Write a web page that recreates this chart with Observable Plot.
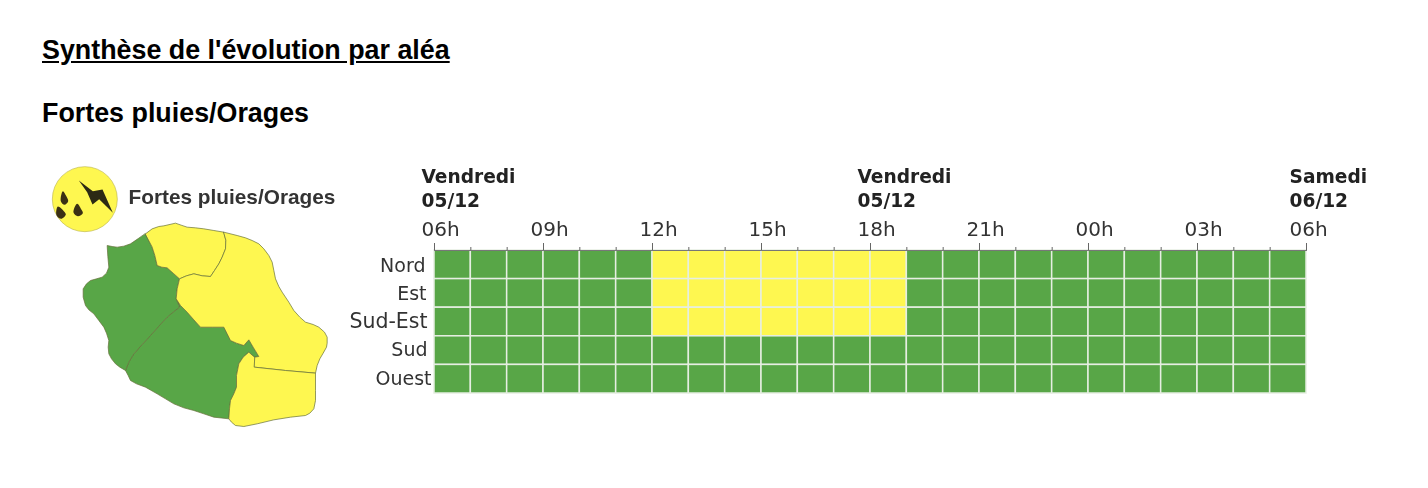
<!DOCTYPE html>
<html lang="fr">
<head>
<meta charset="utf-8">
<script src="https://cdn.jsdelivr.net/npm/d3@7"></script>
<script src="https://cdn.jsdelivr.net/npm/@observablehq/plot@0.6"></script>
<style>
  html, body { margin: 0; padding: 0; background: #fff; width: 1428px; height: 488px; overflow: hidden; }
  #page { position: relative; width: 1428px; height: 488px; }
  .h { position: absolute; left: 42px; margin: 0; font: bold 26.85px "Liberation Sans", Arial, sans-serif; color: #000; line-height: 30px; white-space: nowrap; }
  #t1 { top: 35px; text-decoration: underline; }
  #t2 { top: 98px; }
  #map { position: absolute; left: 30px; top: 150px; }
  #grid { position: absolute; left: 340px; top: 150px; }
  svg { background: transparent !important; filter: blur(0.45px); }
</style>
</head>
<body>
<div id="page">
  <h1 class="h" id="t1">Synthèse de l'évolution par aléa</h1>
  <h2 class="h" id="t2">Fortes pluies/Orages</h2>
  <div id="map"></div>
  <div id="grid"></div>
</div>
<script>
// ---- Data -----
const zones = ["Nord", "Est", "Sud-Est", "Sud", "Ouest"];
const hourLabels = ["06h", "09h", "12h", "15h", "18h", "21h", "00h", "03h", "06h"];
const labelHours = [0, 3, 6, 9, 12, 15, 18, 21, 24];
const dayLabels = ["Vendredi\n05/12", "Vendredi\n05/12", "Samedi\n06/12"];
const dayHours = [0, 12, 24];
// vigilance level per hour (24 hours from 06h): 0 = vert, 1 = jaune
const nordLevels    = [0,0,0,0,0,0,1,1,1,1,1,1,1,0,0,0,0,0,0,0,0,0,0,0];
const estLevels     = [0,0,0,0,0,0,1,1,1,1,1,1,1,0,0,0,0,0,0,0,0,0,0,0];
const sudEstLevels  = [0,0,0,0,0,0,1,1,1,1,1,1,1,0,0,0,0,0,0,0,0,0,0,0];
const sudLevels     = [0,0,0,0,0,0,0,0,0,0,0,0,0,0,0,0,0,0,0,0,0,0,0,0];
const ouestLevels   = [0,0,0,0,0,0,0,0,0,0,0,0,0,0,0,0,0,0,0,0,0,0,0,0];
const levelsByZone = [nordLevels, estLevels, sudEstLevels, sudLevels, ouestLevels];
const levelNames = ["vert", "jaune"];
const levelColors = ["#58a647", "#fef750"];

// Map outlines of the sectors (map units)
const nordShape = [[345,250],[365,235],[385,228],[400,226],[435,218],[452,224],[470,230],[495,232],[520,235],[550,240],[580,245],[586,270],[585,295],[575,320],[565,340],[552,360],[540,378],[515,376],[490,370],[468,376],[447,385],[428,368],[410,352],[394,350],[380,345],[373,315],[365,290]];
const estShape = [[580,245],[620,255],[645,262],[665,270],[685,280],[700,295],[715,315],[725,335],[730,360],[735,385],[745,408],[755,425],[775,455],[790,480],[808,500],[825,515],[848,522],[865,530],[882,545],[890,560],[890,578],[888,590],[878,608],[868,625],[860,645],[855,668],[765,660],[672,650],[672,620],[685,618],[668,590],[655,568],[640,585],[618,578],[600,570],[590,550],[580,530],[545,530],[510,530],[490,508],[470,485],[450,465],[437,445],[440,415],[447,385],[468,376],[490,370],[515,376],[540,378],[552,360],[565,340],[575,320],[585,295],[586,270]];
const sudEstShape = [[672,650],[765,660],[855,668],[855,720],[855,750],[850,775],[838,788],[825,795],[780,800],[730,808],[680,820],[640,828],[615,825],[603,815],[595,805],[597,775],[600,750],[610,730],[618,710],[618,675],[625,640],[638,620],[655,605],[672,620]];
const sudShape = [[437,445],[450,465],[470,485],[490,508],[510,530],[545,530],[580,530],[590,550],[600,570],[618,578],[640,585],[655,568],[668,590],[685,618],[672,620],[655,605],[638,620],[625,640],[618,675],[618,710],[610,730],[600,750],[597,775],[595,805],[550,800],[520,790],[490,780],[460,772],[430,760],[405,745],[380,730],[345,710],[318,700],[300,690],[293,675],[285,660],[295,635],[310,610],[335,582],[360,555],[385,527],[410,500],[428,485],[447,470]];
const ouestShape = [[345,250],[365,290],[373,315],[380,345],[394,350],[410,352],[428,368],[447,385],[440,415],[437,445],[447,470],[428,485],[410,500],[385,527],[360,555],[335,582],[310,610],[295,635],[285,660],[268,650],[255,640],[243,625],[235,610],[233,590],[235,570],[228,548],[220,530],[205,510],[190,490],[175,478],[165,465],[158,440],[158,415],[168,400],[180,390],[198,385],[215,380],[228,368],[235,350],[232,318],[230,285],[245,288],[260,290],[280,287],[300,280],[322,265]];
const mapShapes = [
  {pts: sudShape, level: 0}, {pts: ouestShape, level: 0},
  {pts: nordShape, level: 1}, {pts: estShape, level: 1}, {pts: sudEstShape, level: 1}
];
// Pictogram
const iconCenter = [163, 146];
const boltShape = [[145,90],[187,122],[216,117],[247,187],[206,146],[186,162],[170,125]];
const dropShapes = [
  [[97,122],[108,138],[113,152],[102,163],[91,152]],
  [[140,160],[152,176],[157,188],[142,197],[129,186]],
  [[82,168],[100,182],[106,192],[92,205],[78,194]]
];
const mapTitle = "Fortes pluies/Orages";

// ---- Heat grid -----
const cells = zones.flatMap((zone, i) =>
  levelsByZone[i].map((lv, h) => ({zone, h, level: levelNames[lv]})));
const fontDV = "'DejaVu Sans', sans-serif";

const hourText = {x: (d, i) => labelHours[i], text: d => d, frameAnchor: "top", dy: -21,
  textAnchor: "start", fontFamily: fontDV, fontSize: 20, fill: "#333", lineAnchor: "middle"};
const dayText = {text: d => d.label, x: d => d.h, frameAnchor: "top", dy: -63,
  textAnchor: "start", fontFamily: fontDV, fontSize: 18.6, fontWeight: "bold",
  fill: "#222", lineHeight: 1.29, lineAnchor: "middle"};
const days = dayLabels.map((label, i) => ({label, h: dayHours[i]}));
const tickOpts = size => ({x: d => d, y: () => zones[0], insetTop: -size, insetBottom: 28.6, stroke: "#666", strokeWidth: 1});
const zoneDx = [-9, -8, -7, -7, -3];
const zoneDy = [1, 1, -1, -1, 0];
const zoneFont = [19, 19, 20.5, 19, 19];

const gridPlot = Plot.plot({
  width: 1088, height: 290,
  marginLeft: 94, marginRight: 122, marginTop: 100, marginBottom: 47,
  x: {domain: [0, 24], axis: null},
  y: {domain: zones, padding: 0, round: false, axis: null},
  color: {domain: levelNames, range: levelColors},
  marks: [
    Plot.barX(cells, {x1: d => d.h, x2: d => d.h + 1, y: "zone", fill: "level",
      stroke: "#e6eee2", strokeWidth: 1.5}),
    Plot.tickX(d3.range(0, 25), tickOpts(3)),
    Plot.tickX(labelHours, tickOpts(7)),
    Plot.frame({anchor: "top", stroke: "#777", strokeWidth: 1}),
    Plot.text(hourLabels, {...hourText, dx: -13, filter: (d, i) => i < 8}),
    Plot.text(hourLabels, {...hourText, dx: -17, filter: (d, i) => i === 8}),
    Plot.text(days, {...dayText, dx: -13, filter: d => d.h < 24}),
    Plot.text(days, {...dayText, dx: -17, filter: d => d.h === 24}),
    ...zones.map((z, i) => Plot.text([z], {y: d => d, text: d => d, frameAnchor: "left", dx: zoneDx[i], dy: zoneDy[i], textAnchor: "end",
      fontFamily: fontDV, fontSize: zoneFont[i], fill: "#333", lineAnchor: "middle"}))
  ]
});
document.getElementById("grid").append(gridPlot);

// ---- Map -----
const px = d => d[0], py = d => d[1];
const mapPlot = Plot.plot({
  width: 310, height: 290,
  margin: 0,
  x: {domain: [0, 930], axis: null},
  y: {domain: [0, 870], range: [0, 290], axis: null},
  marks: [
    ...mapShapes.map(s => Plot.line(s.pts, {x: px, y: py, curve: "linear-closed",
      fill: levelColors[s.level], stroke: "#66703a", strokeWidth: 0.7})),
    Plot.dot([iconCenter], {x: px, y: py, r: 32.5, fill: levelColors[1], stroke: "#b9b24a", strokeWidth: 0.6}),
    Plot.line(boltShape, {x: px, y: py, curve: "linear-closed", fill: "#2c2a14", stroke: "none"}),
    ...dropShapes.map(s => Plot.line(s, {x: px, y: py, curve: "catmull-rom-closed", fill: "#3a2f14", stroke: "none"})),
    Plot.text([mapTitle], {x: 294, y: 141, text: d => d, textAnchor: "start",
      fontFamily: "'Liberation Sans', Arial, sans-serif", fontWeight: "bold", fontSize: 20.8, fill: "#333"})
  ]
});
document.getElementById("map").append(mapPlot);
</script>
</body>
</html>
